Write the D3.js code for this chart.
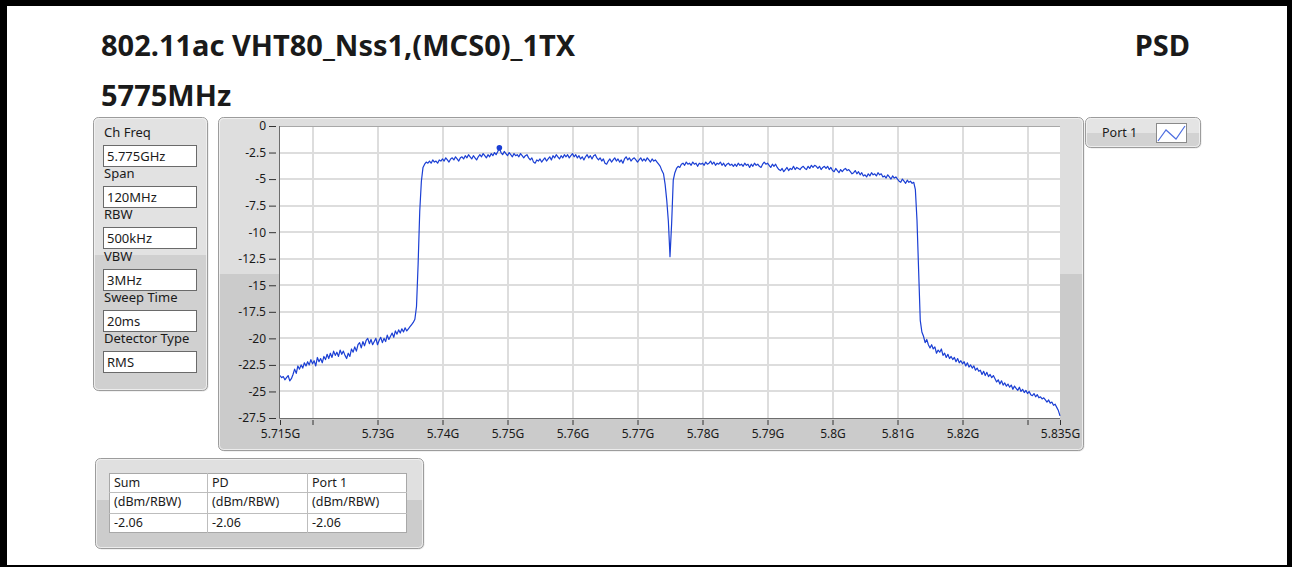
<!DOCTYPE html>
<html><head><meta charset="utf-8">
<script src="https://cdn.jsdelivr.net/npm/d3@7"></script>
<style>
html,body{margin:0;padding:0;background:#fff;}
svg{display:block;}
text{font-family:"Noto Sans",sans-serif;fill:#1a1a1a;}
</style></head><body>
<svg id="c" width="1292" height="567"></svg>
<script>
// ---------------- data ----------------
const titleLine1 = "802.11ac VHT80_Nss1,(MCS0)_1TX";
const titleLine2 = "5775MHz";
const titleRight = "PSD";

const freqStartMHz = 5715;
const freqStepMHz = 0.25;
const psdPort1 = [
 -23.5,-23.7,-23.6,-23.9,-23.7,-23.5,-24.0,-23.8,-23.4,-22.9,-23.3,-22.6,-22.9,-22.5,-22.8,-22.3,-22.6,-22.2,-22.5,-22.0,
 -22.4,-22.1,-22.6,-21.8,-22.2,-21.9,-22.3,-21.7,-22.0,-21.5,-21.9,-21.4,-21.8,-21.2,-21.6,-21.3,-21.7,-21.1,-21.5,-21.2,
 -21.6,-21.9,-21.4,-21.7,-21.0,-21.3,-20.8,-21.2,-20.6,-20.4,-20.9,-20.3,-20.7,-20.2,-20.0,-20.5,-20.1,-20.6,-20.3,-20.0,
 -20.6,-20.2,-19.9,-20.4,-20.0,-20.3,-19.7,-20.1,-19.8,-19.5,-19.9,-19.3,-19.6,-19.2,-19.5,-19.1,-19.4,-19.0,-19.3,-19.1,
 -18.9,-18.7,-18.5,-18.2,-17.0,-13.0,-8.0,-5.2,-3.9,-3.6,-3.4,-3.5,-3.3,-3.5,-3.2,-3.4,-3.3,-3.5,-3.2,-3.3,
 -3.1,-3.3,-3.0,-3.2,-3.4,-3.1,-3.0,-3.2,-2.9,-3.1,-3.3,-3.0,-2.9,-3.1,-2.8,-3.0,-2.7,-2.9,-3.1,-2.8,
 -3.0,-3.2,-2.9,-2.7,-2.9,-2.6,-2.8,-3.0,-2.7,-2.9,-2.6,-2.8,-2.5,-2.7,-2.4,-2.06,-2.5,-2.7,-2.4,-2.6,
 -2.8,-2.5,-2.7,-2.9,-2.6,-2.8,-2.7,-2.9,-2.6,-2.8,-3.0,-2.8,-2.7,-3.0,-3.2,-3.0,-3.4,-3.5,-3.2,-3.3,
 -3.1,-3.4,-3.2,-3.0,-3.3,-3.1,-2.9,-3.2,-2.8,-3.0,-2.7,-2.9,-3.1,-2.8,-3.0,-2.7,-2.9,-2.7,-3.0,-2.8,
 -2.6,-2.9,-2.7,-3.0,-2.8,-3.1,-2.9,-3.2,-2.9,-2.7,-3.0,-2.8,-3.1,-2.8,-2.7,-3.0,-3.2,-3.0,-3.3,-3.1,
 -3.5,-3.6,-3.3,-3.1,-3.4,-3.2,-3.0,-3.3,-3.1,-3.4,-3.2,-3.5,-3.1,-2.9,-3.2,-3.0,-3.3,-3.1,-3.0,-3.2,
 -3.4,-3.2,-3.0,-3.3,-3.1,-3.3,-3.0,-3.2,-3.4,-3.1,-3.3,-3.2,-3.4,-3.6,-3.8,-4.2,-4.5,-5.5,-7.0,-9.0,
 -12.3,-9.2,-5.1,-4.4,-4.0,-3.8,-3.9,-3.6,-3.5,-3.7,-3.4,-3.6,-3.5,-3.7,-3.4,-3.6,-3.5,-3.8,-3.5,-3.6,
 -3.5,-3.7,-3.4,-3.6,-3.5,-3.3,-3.6,-3.4,-3.7,-3.5,-3.6,-3.4,-3.7,-3.5,-3.8,-3.6,-3.5,-3.7,-3.6,-3.8,
 -3.6,-3.8,-3.5,-3.7,-3.6,-3.8,-3.5,-3.7,-3.6,-3.9,-3.6,-3.8,-3.5,-3.7,-3.6,-3.8,-3.9,-3.6,-3.4,-3.6,
 -3.5,-3.7,-3.9,-3.6,-3.8,-3.6,-3.9,-4.1,-4.2,-4.0,-4.3,-4.1,-3.9,-4.2,-4.0,-4.1,-3.8,-4.1,-3.9,-4.0,
 -4.1,-3.9,-3.8,-4.0,-4.1,-3.8,-4.0,-3.7,-3.9,-3.7,-3.8,-4.0,-3.8,-4.1,-3.9,-3.8,-4.0,-3.8,-4.1,-3.9,
 -4.2,-4.3,-4.0,-4.2,-4.4,-4.1,-4.3,-4.1,-4.0,-4.2,-4.1,-4.3,-4.5,-4.4,-4.2,-4.5,-4.3,-4.6,-4.4,-4.7,
 -4.6,-4.8,-4.5,-4.7,-4.4,-4.6,-4.5,-4.7,-4.4,-4.6,-4.5,-4.8,-4.7,-4.9,-4.6,-4.8,-5.0,-4.7,-4.9,-4.8,
 -5.0,-5.2,-5.3,-5.0,-5.2,-5.4,-5.1,-5.3,-5.2,-5.4,-5.3,-6.0,-8.9,-13.6,-18.3,-19.4,-19.8,-20.4,-20.1,-20.6,
 -20.9,-20.6,-21.0,-20.8,-21.4,-21.1,-21.3,-21.0,-21.6,-21.4,-21.8,-21.5,-21.9,-21.7,-22.0,-21.8,-22.2,-21.9,-22.3,-22.1,
 -22.4,-22.2,-22.6,-22.3,-22.7,-22.5,-22.8,-22.6,-23.0,-22.8,-23.1,-23.0,-23.4,-23.1,-23.5,-23.2,-23.6,-23.4,-23.7,-23.5,
 -23.8,-24.1,-23.9,-24.3,-24.0,-24.4,-24.2,-24.5,-24.3,-24.6,-24.4,-24.8,-24.5,-24.7,-24.9,-24.6,-25.0,-24.8,-25.1,-24.9,
 -25.2,-25.0,-25.3,-25.4,-25.2,-25.5,-25.3,-25.6,-25.5,-25.7,-25.6,-25.8,-26.0,-25.8,-26.1,-26.0,-26.3,-26.2,-26.5,-26.8,
 -27.3
];
const peakFreqMHz = 5748.75;
const peakValue = -2.06;

const yTicks = [0,-2.5,-5,-7.5,-10,-12.5,-15,-17.5,-20,-22.5,-25,-27.5];
const xLabelTicks = [5715,5730,5740,5750,5760,5770,5780,5790,5800,5810,5820,5835];
const xMinorTicks = [5720,5830];
const xGridTicks = [5720,5730,5740,5750,5760,5770,5780,5790,5800,5810,5820,5830];

const settingLabels = ["Ch Freq","Span","RBW","VBW","Sweep Time","Detector Type"];
const settingValues = ["5.775GHz","120MHz","500kHz","3MHz","20ms","RMS"];

const tableHeaders = ["Sum","PD","Port 1"];
const tableUnits = ["(dBm/RBW)","(dBm/RBW)","(dBm/RBW)"];
const tableValues = ["-2.06","-2.06","-2.06"];
const legendLabel = "Port 1";

// ---------------- drawing ----------------
const svg = d3.select("#c");
const defs = svg.append("defs");
const traceColor = "#1b3fd4";

// frame
svg.append("rect").attr("x",0).attr("y",0).attr("width",1292).attr("height",567).attr("fill","#fff");
svg.append("rect").attr("x",0).attr("y",0).attr("width",7).attr("height",567).attr("fill","#000");
svg.append("rect").attr("x",0).attr("y",0).attr("width",1292).attr("height",6).attr("fill","#000");
svg.append("rect").attr("x",1287).attr("y",0).attr("width",5).attr("height",567).attr("fill","#000");
svg.append("rect").attr("x",0).attr("y",565).attr("width",1292).attr("height",2).attr("fill","#000");

// titles
svg.append("text").attr("x",101).attr("y",56).attr("font-size",29).attr("font-weight","bold").text(titleLine1);
svg.append("text").attr("x",101).attr("y",106).attr("font-size",29).attr("font-weight","bold").text(titleLine2);
svg.append("text").attr("x",1190).attr("y",56).attr("font-size",29).attr("font-weight","bold").attr("text-anchor","end").text(titleRight);

let gid = 0;
function panel(x,y,w,h,splitY,light,dark){
  const id = "g"+(gid++);
  const f = (splitY - y)/h;
  const g = defs.append("linearGradient").attr("id",id).attr("x1",0).attr("y1",0).attr("x2",0).attr("y2",1);
  g.append("stop").attr("offset",0).attr("stop-color",light);
  g.append("stop").attr("offset",f).attr("stop-color",light);
  g.append("stop").attr("offset",f).attr("stop-color",dark);
  g.append("stop").attr("offset",1).attr("stop-color",dark);
  svg.append("rect").attr("x",x+1.5).attr("y",y+1.5).attr("width",w).attr("height",h).attr("rx",5)
    .attr("fill","#e4e4e4");
  svg.append("rect").attr("x",x+0.5).attr("y",y+0.5).attr("width",w).attr("height",h).attr("rx",5)
    .attr("fill",`url(#${id})`).attr("stroke","#9c9c9c");
  svg.append("rect").attr("x",x+1.5).attr("y",y+1.5).attr("width",w-2).attr("height",h-2).attr("rx",4)
    .attr("fill","none").attr("stroke","#f4f4f4").attr("stroke-opacity",0.8);
}

// ---- plot panel ----
panel(218,117,865,333,274,"#dedede","#cbcbcb");

const x = d3.scaleLinear().domain([5715,5835]).range([280,1060]);
const y = d3.scaleLinear().domain([-27.5,0]).range([418,126]);

svg.append("rect").attr("x",280).attr("y",126).attr("width",780).attr("height",292).attr("fill","#fff");

// grid
svg.append("g").selectAll("line").data(xGridTicks).join("line")
  .attr("x1",d=>Math.round(x(d))).attr("x2",d=>Math.round(x(d)))
  .attr("y1",126).attr("y2",418).attr("stroke","#dddddd").attr("stroke-width",2);
svg.append("g").selectAll("line").data(yTicks.slice(1,-1)).join("line")
  .attr("y1",d=>Math.round(y(d))).attr("y2",d=>Math.round(y(d)))
  .attr("x1",280).attr("x2",1060).attr("stroke","#dddddd").attr("stroke-width",2);

// plot border
svg.append("line").attr("x1",279.5).attr("x2",1060).attr("y1",126.5).attr("y2",126.5).attr("stroke","#a8a8a8");
svg.append("line").attr("x1",279.5).attr("x2",279.5).attr("y1",126).attr("y2",418.5).attr("stroke","#6d6d6d");
svg.append("line").attr("x1",279.5).attr("x2",1060).attr("y1",418.5).attr("y2",418.5).attr("stroke","#6d6d6d");

// y axis
const yAxis = d3.axisLeft(y).tickValues(yTicks).tickFormat(d=>String(d)).tickSizeInner(7).tickSizeOuter(0).tickPadding(3);
const gy = svg.append("g").attr("transform","translate(276,0)").call(yAxis);
gy.select(".domain").remove();
gy.selectAll("line").attr("stroke","#333");
gy.selectAll("text").attr("font-size",12).attr("font-family","Noto Sans").attr("fill","#1a1a1a");

// x axis
const xAxis = d3.axisBottom(x).tickValues(xLabelTicks.concat(xMinorTicks))
  .tickFormat(d=> xMinorTicks.includes(d) ? "" : (+(d/1000).toFixed(3))+"G")
  .tickSizeInner(5).tickSizeOuter(0).tickPadding(4);
const gx = svg.append("g").attr("transform","translate(0,420)").call(xAxis);
gx.select(".domain").remove();
gx.selectAll("line").attr("stroke","#333");
gx.selectAll("text").attr("font-size",12).attr("font-family","Noto Sans").attr("fill","#1a1a1a");

// trace
defs.append("clipPath").attr("id","plotclip").append("rect").attr("x",280).attr("y",126).attr("width",781).attr("height",293);
const pts = psdPort1.map((v,i)=>({f: freqStartMHz + i*freqStepMHz, v}));
const line = d3.line().x(d=>x(d.f)).y(d=>y(d.v));
svg.append("path").datum(pts).attr("d",line).attr("fill","none").attr("stroke",traceColor)
  .attr("stroke-width",1.2).attr("stroke-linejoin","round").attr("clip-path","url(#plotclip)");
svg.append("circle").attr("cx",x(peakFreqMHz)).attr("cy",y(peakValue)).attr("r",2.8).attr("fill",traceColor);

// ---- settings panel ----
panel(93,117,114,273,255,"#e2e2e2","#d0d0d0");
settingLabels.forEach((lab,i)=>{
  const by = 145 + i*41.2;
  svg.append("text").attr("x",104).attr("y",by-8).attr("font-size",13).text(lab);
  svg.append("rect").attr("x",103.5).attr("y",Math.round(by)+0.5).attr("width",93).attr("height",21)
    .attr("fill","#fff").attr("stroke","#6a6a6a");
  svg.append("text").attr("x",107).attr("y",Math.round(by)+16).attr("font-size",13).text(settingValues[i]);
});

// ---- legend ----
panel(1085,117,115,30,132,"#e4e4e4","#d2d2d2");
svg.append("text").attr("x",1102).attr("y",137).attr("font-size",12.5).text(legendLabel);
svg.append("rect").attr("x",1156.5).attr("y",123.5).attr("width",30).attr("height",19).attr("fill","#fff").attr("stroke","#8a8a8a");
svg.append("polyline").attr("points","1158,141 1166,130 1176,139 1185,126")
  .attr("fill","none").attr("stroke","#4f6fe0").attr("stroke-width",1.2);

// ---- table panel ----
panel(95,458,328,90,500,"#e0e0e0","#cccccc");
const colX = [109,207,307,407];
const rowY = [473,492,513,533];
svg.append("rect").attr("x",109.5).attr("y",473.5).attr("width",297).attr("height",59).attr("fill","#fff").attr("stroke","#a8a8a8");
colX.slice(1,3).forEach(cx=>svg.append("line").attr("x1",cx+0.5).attr("x2",cx+0.5).attr("y1",473).attr("y2",533).attr("stroke","#bdbdbd"));
rowY.slice(1,3).forEach(ry=>svg.append("line").attr("x1",109).attr("x2",407).attr("y1",ry+0.5).attr("y2",ry+0.5).attr("stroke","#bdbdbd"));
[tableHeaders,tableUnits,tableValues].forEach((row,r)=>{
  row.forEach((t,c)=>{
    svg.append("text").attr("x",colX[c]+5).attr("y",rowY[r]+14).attr("font-size",12.5).text(t);
  });
});
</script>
</body></html>
